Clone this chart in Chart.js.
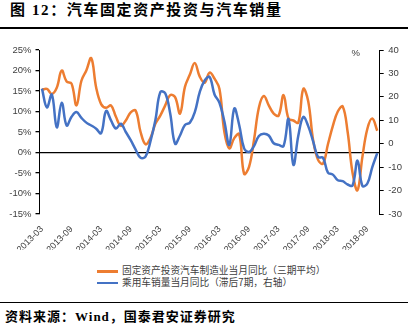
<!DOCTYPE html>
<html>
<head>
<meta charset="utf-8">
<script src="https://cdn.jsdelivr.net/npm/chart.js@4.4.1/dist/chart.umd.min.js"></script>
<style>
  body { margin: 0; width: 408px; height: 327px; background: #fff; position: relative; overflow: hidden; }
  .titulo { position: absolute; left: 10px; top: 0; font: bold 15px "Liberation Serif", "Noto Sans CJK SC", serif; letter-spacing: 1.6px; color: #000; line-height: 20px; }
  .linha { position: absolute; left: 0; width: 408px; background: #000; }
  #wrap { position: absolute; left: 0; top: 30px; width: 408px; height: 220px; }
  .legenda { position: absolute; left: 97px; top: 265px; font: 9.7px "Noto Sans CJK SC", sans-serif; color: #404040; }
  .legenda div { height: 11.7px; line-height: 11.7px; white-space: nowrap; }
  .legenda span { display: inline-block; width: 21px; height: 2.4px; vertical-align: middle; margin-right: 4px; }
  .fonte { position: absolute; left: 5px; top: 308px; font: bold 13px "Liberation Serif", "Noto Sans CJK SC", serif; letter-spacing: 1px; color: #000; line-height: 18px; }
</style>
</head>
<body>
<div class="titulo">图 12：汽车固定资产投资与汽车销量</div>
<div class="linha" style="top:26.5px;height:2px"></div>
<div id="wrap"><canvas id="grafico"></canvas></div>
<div class="legenda">
  <div><span style="background:#ED7D31"></span>固定资产投资汽车制造业当月同比（三期平均）</div>
  <div><span style="background:#4472C4"></span>乘用车销量当月同比（滞后7期，右轴）</div>
</div>
<div class="linha" style="top:302px;height:1.3px"></div>
<div class="fonte">资料来源：Wind，国泰君安证券研究</div>

<script>
// meses 2013-03 .. 2018-11
const meses = [];
for (let a = 2013, m = 3; meses.length < 69; m++) {
  if (m > 12) { m = 1; a++; }
  meses.push(`${a}-${String(m).padStart(2, "0")}`);
}

// 固定资产投资汽车制造业当月同比（三期平均）, %
const investimento = [
  15.3, 15.5, 14.3, 15.8, 20.0, 17.3, 16.8, 11.5, 17.5, 20.0,
  23.0, 15.8, 11.8, 10.9, 11.5, 8.7, 6.5, 7.8, 9.8, 10.2,
  5.0, 2.0, 3.5, 7.0, 9.0, 11.5, 14.0, 13.5, 9.5, 16.0,
  19.0, 21.8, 18.5, 17.0, 19.5, 18.0, 15.5, 5.0, 1.0, 3.5,
  4.5, -5.2, -3.5, 3.0, 11.0, 13.8, 11.5, 9.5, 9.0, 14.0,
  8.3, 7.8, 7.3, 15.5, 12.5, 3.0, -1.8, -2.7, 2.0, 6.5,
  10.0, 11.2, 5.0, -5.0, -9.2, -1.0, 5.8, 8.3, 5.3
];

// 乘用车销量当月同比（滞后7期）, 右轴
const vendas = [
  23.5, 15.5, 21.0, 7.0, 17.5, 7.8, 11.5, 13.5, 11.0, 9.0,
  7.8, 6.4, 4.5, 14.0, 10.0, 6.5, 8.5, 5.0, 1.5, -2.5,
  -6.0, -5.5, 1.0, 10.0, 22.0, 21.5, 13.0, 0.0, 3.5, 8.0,
  9.0, 13.5, 22.0, 27.0, 28.5, 21.0, 17.5, 9.5, -0.5, 15.0,
  8.0, -2.0, -3.5, -1.0, 3.3, 4.3, 3.5, 0.2, -0.5, -1.0,
  10.5, -9.0, 3.5, 11.4, 7.5, 1.0, -5.7, -6.0, -12.3, -13.2,
  -15.6, -16.0, -17.4, -17.8, -7.2, -18.0, -17.0, -10.0, -4.0
];

const fonteEixo = { family: "'Liberation Sans', Arial, sans-serif", size: 9.5 };
const corTexto = "#404040";

// "%" por cima do eixo direito
const simboloPct = {
  id: "simboloPct",
  afterDraw(chart) {
    const { ctx, chartArea } = chart;
    const y = chart.scales.y1.getPixelForValue(40);
    ctx.save();
    ctx.font = "9.5px 'Liberation Sans', Arial, sans-serif";
    ctx.fillStyle = corTexto;
    ctx.textAlign = "center";
    ctx.textBaseline = "middle";
    ctx.fillText("%", chartArea.right - 24, y + 3.5);
    ctx.restore();
  }
};

new Chart(document.getElementById("grafico"), {
  type: "line",
  data: {
    labels: meses,
    datasets: [
      {
        label: "固定资产投资汽车制造业当月同比（三期平均）",
        data: investimento,
        yAxisID: "y",
        borderColor: "#ED7D31",
        borderWidth: 2.5,
        pointRadius: 0,
        tension: 0.4,
        order: 1
      },
      {
        label: "乘用车销量当月同比（滞后7期，右轴）",
        data: vendas,
        yAxisID: "y1",
        borderColor: "#4472C4",
        borderWidth: 2.5,
        pointRadius: 0,
        tension: 0.4,
        order: 0
      }
    ]
  },
  options: {
    responsive: true,
    maintainAspectRatio: false,
    animation: false,
    layout: { padding: { top: 20, left: 0, right: 0, bottom: 0 } },
    plugins: {
      legend: { display: false },
      tooltip: { enabled: false }
    },
    scales: {
      x: {
        offset: true,
        grid: { display: false },
        border: { display: false },
        afterFit: s => { s.height = 36; },
        ticks: {
          autoSkip: false,
          maxRotation: 45,
          minRotation: 45,
          padding: 2,
          color: corTexto,
          font: { family: "'Liberation Sans', Arial, sans-serif", size: 9 },
          callback(v, i) { return i % 6 === 0 ? this.getLabelForValue(v) : ""; }
        }
      },
      y: {
        position: "left",
        min: -15,
        max: 25,
        afterFit: s => { s.width = 39.5; },
        border: { color: "#000", width: 1 },
        grid: {
          color: c => (c.tick && c.tick.value === 0 ? "#000" : "rgba(0,0,0,0)"),
          lineWidth: 1.3,
          tickColor: "#000",
          tickLength: 4
        },
        ticks: {
          stepSize: 5,
          padding: 4,
          color: corTexto,
          font: fonteEixo,
          callback: v => `${v}%`
        }
      },
      y1: {
        position: "right",
        min: -30,
        max: 40,
        afterFit: s => { s.width = 28.3; },
        border: { color: "#000", width: 1 },
        grid: { drawOnChartArea: false, tickColor: "#000", tickLength: 4 },
        ticks: {
          stepSize: 10,
          padding: 4.5,
          color: corTexto,
          font: fonteEixo
        }
      }
    }
  },
  plugins: [simboloPct]
});
</script>
</body>
</html>
